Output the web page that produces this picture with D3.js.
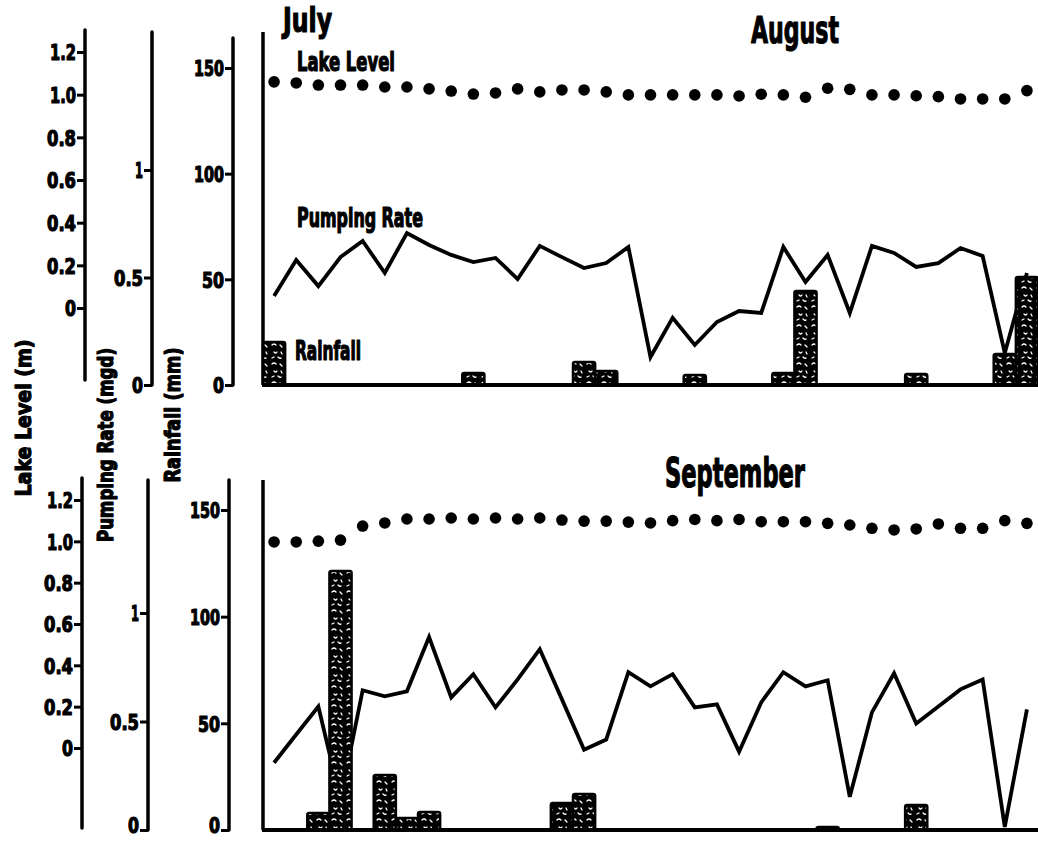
<!DOCTYPE html>
<html><head><meta charset="utf-8">
<script src="https://cdn.jsdelivr.net/npm/d3@7"></script>
<style>
body{margin:0;background:#fff}
text{font-family:"Liberation Sans Narrow","DejaVu Sans Condensed","DejaVu Sans","Arial Narrow",sans-serif;font-weight:700;fill:#000;stroke:#000;stroke-width:1.2px;stroke-linejoin:round}
</style>
</head><body>
<svg id="c" width="1038" height="841"></svg>
<script>
// ---------- DATA ----------
const days = d3.range(1, 36);
// Top panel (July – August)
const topLake = [1.060,1.055,1.045,1.045,1.045,1.036,1.036,1.027,1.017,1.003,1.008,1.027,1.013,1.022,1.022,1.013,0.999,0.999,0.999,0.999,0.999,0.994,1.002,0.999,0.988,1.030,1.025,0.999,0.999,0.995,0.991,0.980,0.980,0.980,1.019];
const topPump = [0.414,0.581,0.460,0.595,0.670,0.521,0.707,0.651,0.605,0.572,0.591,0.493,0.647,0.595,0.544,0.567,0.642,0.130,0.312,0.186,0.293,0.344,0.335,0.642,0.479,0.605,0.335,0.647,0.614,0.549,0.567,0.637,0.600,0.149,0.521];
const topRainDays = [1,10,15,16,20,24,25,30,34,35];
const topRain = [20.3,5.7,10.9,6.6,4.7,5.7,44.5,5.2,14.7,51.1];
// Bottom panel (September)
const botLake = [0.997,0.997,1.001,1.006,1.074,1.089,1.108,1.108,1.113,1.108,1.113,1.108,1.113,1.103,1.098,1.098,1.093,1.089,1.100,1.106,1.100,1.106,1.095,1.095,1.095,1.087,1.079,1.063,1.055,1.060,1.084,1.063,1.063,1.100,1.087];
const botPump = [0.310,0.440,0.569,0.139,0.644,0.616,0.639,0.889,0.611,0.718,0.565,0.694,0.833,0.602,0.370,0.417,0.727,0.662,0.718,0.565,0.579,0.361,0.588,0.727,0.662,0.690,0.153,0.542,0.722,0.491,0.569,0.648,0.694,0.014,0.556];
const botRainDays = [3,4,6,7,8,14,15,26,30];
const botRain = [8.0,121.4,25.8,5.6,8.4,12.7,16.9,1.4,11.7];
// Axis ticks
const lakeTicks = [0,0.2,0.4,0.6,0.8,1.0,1.2];
const pumpTicks = [0,0.5,1];
const rainTicks = [0,50,100,150];
// Month labels
const topMonths = ["July","August"];
const botMonths = ["September"];
// Axis titles
const axisTitles = ["Lake Level (m)","Pumping Rate (mgd)","Rainfall (mm)"];
const seriesLabels = ["Lake Level","Pumping Rate","Rainfall"];

// ---------- DRAW ----------
const svg = d3.select("#c");
const defs = svg.append("defs");
const pat = defs.append("pattern").attr("id","speck").attr("patternUnits","userSpaceOnUse")
  .attr("width",15).attr("height",19);
pat.append("rect").attr("width",15).attr("height",19).attr("fill","#000");
pat.append("path")
  .attr("d","M2,3 q2,-2 4,0 M10,3 l2,2 M4,10 q2,2 3,0 M11,10 l1,2 M2,16 l2,-1 M8,15 q2,2 3,1")
  .attr("stroke","#fff").attr("stroke-width",1.3).attr("fill","none").attr("stroke-linecap","round");

const x = d3.scaleLinear().domain([0.5, 35.5]).range([263, 1038]);
const step = x(2) - x(1);

function tickLen(s) {
  let w = 0;
  for (const ch of s) w += (ch === ".") ? 7 : (ch === "1" ? 8 : 11);
  return w;
}

function drawPanel(cfg) {
  const g = svg.append("g");
  const yRain = d3.scaleLinear().domain([0,150]).range(cfg.rainRange);
  const yPump = d3.scaleLinear().domain([0,1]).range(cfg.pumpRange);
  const yLake = d3.scaleLinear().domain([0,1.2]).range(cfg.lakeRange);

  function axis(scale, ticks, fmt, xPos, ext, liftZero) {
    const a = g.append("g").attr("transform", `translate(${xPos},0)`)
      .call(d3.axisLeft(scale).tickValues(ticks).tickFormat(fmt).tickSize(8).tickSizeOuter(0).tickPadding(1));
    a.select(".domain").remove();
    a.selectAll(".tick line").attr("stroke","#000").attr("stroke-width",3);
    a.selectAll(".tick text").style("font-size","22px")
      .attr("dy", d => (liftZero && d === 0) ? "0.12em" : "0.36em")
      .attr("textLength", function(){ return tickLen(this.textContent); })
      .attr("lengthAdjust","spacingAndGlyphs");
    g.append("line").attr("x1",xPos).attr("x2",xPos).attr("y1",ext[0]).attr("y2",ext[1])
      .attr("stroke","#000").attr("stroke-width",3.5).attr("stroke-linecap","round");
  }
  axis(yLake, lakeTicks, d => d === 0 ? "0" : d3.format(".1f")(d), cfg.lakeX, cfg.lakeExt, false);
  axis(yPump, pumpTicks, d => d === 0 ? "0" : (d === 1 ? "1" : "0.5"), cfg.pumpX, cfg.pumpExt, cfg.liftZero);
  axis(yRain, rainTicks, d3.format("d"), cfg.rainX, cfg.rainExt, cfg.liftZero);

  // plot frame: left line
  g.append("line").attr("x1",263).attr("x2",263).attr("y1",cfg.frameTop).attr("y2",yRain(0))
    .attr("stroke","#000").attr("stroke-width",3.5);

  // pumping line
  g.append("path").datum(days)
    .attr("d", d3.line().x(d => x(d)).y((d,i) => yPump(cfg.pump[i])))
    .attr("fill","none").attr("stroke","#000").attr("stroke-width",3.8).attr("stroke-linejoin","miter");

  // rainfall bars
  g.selectAll("rect.bar").data(cfg.rainDays).join("rect").attr("class","bar")
    .attr("x", d => x(d) - step/2).attr("width", step)
    .attr("y", (d,i) => yRain(cfg.rain[i])).attr("height", (d,i) => yRain(0) - yRain(cfg.rain[i]))
    .attr("rx",2).attr("fill","url(#speck)").attr("stroke","#000").attr("stroke-width",2.5);

  // baseline
  g.append("line").attr("x1",262).attr("x2",1038).attr("y1",yRain(0)).attr("y2",yRain(0))
    .attr("stroke","#000").attr("stroke-width",4);

  // lake level dots
  g.selectAll("circle").data(days).join("circle")
    .attr("cx", d => x(d)).attr("cy", (d,i) => yLake(cfg.lake[i])).attr("r",5.8).attr("fill","#000");

  return g;
}

drawPanel({
  rainRange:[385,68], pumpRange:[385,170], lakeRange:[308,52],
  lakeX:85, lakeExt:[30,380], pumpX:152, pumpExt:[32,385], rainX:233, rainExt:[38,385], frameTop:32,
  liftZero:false,
  pump: topPump, lake: topLake, rainDays: topRainDays, rain: topRain
});
drawPanel({
  rainRange:[830,510], pumpRange:[830,613], lakeRange:[748,500],
  lakeX:82, lakeExt:[478,828], pumpX:148, pumpExt:[480,830], rainX:229, rainExt:[480,830], frameTop:480,
  liftZero:true,
  pump: botPump, lake: botLake, rainDays: botRainDays, rain: botRain
});

// month and series labels
function label(txt, xPos, yPos, size, len) {
  svg.append("text").attr("x", xPos).attr("y", yPos)
    .style("font-size", size + "px").attr("textLength", len).attr("lengthAdjust","spacingAndGlyphs").text(txt);
}
label(topMonths[0], 283, 32, 34, 49);
label(topMonths[1], 751, 43, 38, 88);
label(botMonths[0], 665, 487, 40, 140);
label(seriesLabels[0], 297, 71, 26, 98);
label(seriesLabels[1], 297, 227, 26, 126);
label(seriesLabels[2], 295, 360, 26, 66);

// axis titles (rotated)
function vlabel(txt, xPos, yCenter, len) {
  svg.append("text").attr("transform", `translate(${xPos},${yCenter}) rotate(-90)`)
    .attr("text-anchor","middle").style("font-size","22px")
    .attr("textLength", len).attr("lengthAdjust","spacingAndGlyphs").text(txt);
}
vlabel(axisTitles[0], 31, 418, 157);
vlabel(axisTitles[1], 113, 445, 194);
vlabel(axisTitles[2], 180, 415, 135);
</script>
</body></html>
